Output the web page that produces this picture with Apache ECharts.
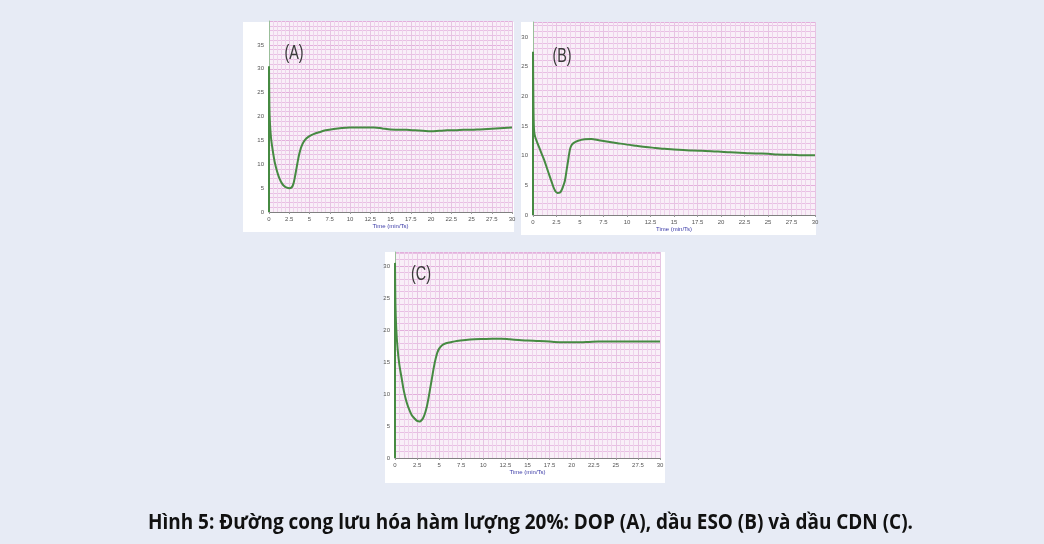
<!DOCTYPE html>
<html>
<head>
<meta charset="utf-8">
<script src="https://cdn.jsdelivr.net/npm/echarts@6/dist/echarts.min.js"></script>
<style>
html,body{margin:0;padding:0;background:#e7ebf5;}
#chart{width:1044px;height:544px;}
</style>
</head>
<body>
<div id="chart"></div>
<script>
// ---- data (time in minutes, torque) ----
const xTickLabels = ['0','2.5','5','7.5','10','12.5','15','17.5','20','22.5','25','27.5','30'];
const panelLabels = ['(A)', '(B)', '(C)'];
const xAxisTitle = 'Time (min/Ts)';
const captionText = 'Hình 5: Đường cong lưu hóa hàm lượng 20%: DOP (A), dầu ESO (B) và dầu CDN (C).';

const timeA = [0,0,0.05,0.12,0.25,0.45,0.7,1.0,1.3,1.6,1.9,2.2,2.5,2.75,2.95,3.1,3.25,3.4,3.55,3.7,3.85,4.0,4.25,4.6,5.0,5.5,6.2,7,8,9,10,11,12,13,14,15,16,17,18,19,20,21,22,23,24,25,26,27,28,29,30];
const torqueA = [0,30.5,22,18.5,15.5,13,10.5,8.5,7,6,5.4,5.1,5.0,5.1,5.6,6.5,7.8,9.2,10.6,11.9,12.9,13.7,14.6,15.4,15.9,16.3,16.7,17.1,17.4,17.6,17.7,17.7,17.7,17.7,17.5,17.3,17.2,17.2,17.1,17.0,16.9,17.0,17.1,17.1,17.2,17.2,17.3,17.4,17.5,17.6,17.7];

const timeB = [0,0,0.05,0.1,0.18,0.35,0.7,1.0,1.25,1.5,1.78,2.0,2.15,2.35,2.6,2.85,3.05,3.2,3.4,3.6,3.75,3.9,4.05,4.3,4.8,5.5,6.2,7,8,9,10,11,12,13,14,15,16,17,18,19,20,21,22,23,24,25,26,27,28,29,30];
const torqueB = [0,27.5,18,14.6,13.5,12.6,11.2,10.0,9.0,7.8,6.5,5.5,4.8,4.1,3.7,3.75,4.2,4.8,5.8,7.8,9.3,10.8,11.6,12.1,12.5,12.75,12.8,12.6,12.35,12.1,11.85,11.65,11.45,11.3,11.15,11.05,10.95,10.85,10.8,10.75,10.65,10.55,10.5,10.4,10.35,10.3,10.2,10.15,10.1,10.05,10.05];

const timeC = [0,0,0.05,0.15,0.3,0.5,0.75,1.0,1.3,1.6,1.9,2.2,2.5,2.8,3.0,3.2,3.4,3.6,3.8,4.0,4.2,4.4,4.6,4.8,5.0,5.3,5.7,6.3,7,8,9,10,11,12,13,14,15,16,17,18,19,20,21,22,23,24,25,26,27,28,29,30];
const torqueC = [0,30.5,24,20,17,14.5,12.5,10.5,8.8,7.6,6.7,6.2,5.8,5.7,5.9,6.3,7.0,8.0,9.4,11.0,12.6,14.2,15.5,16.5,17.1,17.6,17.9,18.1,18.3,18.45,18.55,18.6,18.65,18.65,18.55,18.45,18.35,18.3,18.25,18.15,18.1,18.1,18.1,18.15,18.2,18.2,18.2,18.2,18.2,18.2,18.2,18.2];

const yMaxes = [40, 32.5, 32.2];

// ---- build ----
const zip = (t, v) => t.map((x, i) => [x, v[i]]);
const seriesData = [zip(timeA, torqueA), zip(timeB, torqueB), zip(timeC, torqueC)];

const grids = [
  {left: 269, top: 21, width: 243, height: 191},
  {left: 533, top: 22, width: 282, height: 193},
  {left: 395, top: 252, width: 265, height: 206}
];
const boxes = [
  {x: 243, y: 22, w: 271, h: 210},
  {x: 521, y: 22, w: 295, h: 213},
  {x: 385, y: 252, w: 280, h: 231}
];
const labelPos = [[294, 53], [562, 56], [421, 274]];

const hMajor = '#e3afdc';
const hMinor = '#e9bfe4';
const vMajor = '#e6c4e2';
const vMinor = '#eed3eb';
const tickFont = {fontSize: 6, color: '#555', fontFamily: 'Liberation Sans'};

const xAxes = grids.map((g, i) => ({
  type: 'value', gridIndex: i, min: 0, max: 30, interval: 2.5,
  name: xAxisTitle, nameLocation: 'middle', nameGap: 11,
  nameTextStyle: {fontSize: 6, color: '#3c3ca8', fontFamily: 'Liberation Sans'},
  axisLine: {lineStyle: {color: '#808080', width: 1}},
  axisTick: {show: true, length: 2, lineStyle: {color: '#999'}},
  axisLabel: Object.assign({margin: 4, formatter: (v) => xTickLabels[Math.round(v / 2.5)] || ''}, tickFont),
  splitLine: {show: true, lineStyle: {color: vMajor, width: 1}},
  minorTick: {show: false, splitNumber: 5},
  minorSplitLine: {show: true, lineStyle: {color: vMinor, width: 1}}
}));
const yAxes = grids.map((g, i) => ({
  type: 'value', gridIndex: i, min: 0, max: yMaxes[i], interval: 5,
  axisLine: {show: true, lineStyle: {color: '#9bbf9b', width: 1}},
  axisTick: {show: false},
  axisLabel: Object.assign({margin: 5, showMaxLabel: false}, tickFont),
  splitLine: {show: true, lineStyle: {color: hMajor, width: 1}},
  minorTick: {show: false, splitNumber: 5},
  minorSplitLine: {show: true, lineStyle: {color: hMinor, width: 1}}
}));

const series = seriesData.map((d, i) => ({
  type: 'line', xAxisIndex: i, yAxisIndex: i, data: d,
  showSymbol: false, smooth: 0.3, clip: true,
  lineStyle: {color: '#468a42', width: 2},
  z: 5
}));

// caption width fitting
const capFont = 'bold 21px "Open Sans"';
const mc = document.createElement('canvas').getContext('2d');
mc.font = capFont;
const capW = mc.measureText(captionText).width;
const capScale = 765 / capW;

const graphics = [];
boxes.forEach(b => graphics.push({
  type: 'rect', shape: {x: b.x, y: b.y, width: b.w, height: b.h},
  style: {fill: '#ffffff'}, z: -10, silent: true
}));
panelLabels.forEach((t, i) => graphics.push({
  type: 'text', x: labelPos[i][0], y: labelPos[i][1], scaleX: 0.72, originX: 0, originY: 0, z: 20,
  style: {text: t, font: '20px "Liberation Sans"',
          fill: '#3a3a3a', textAlign: 'center', textVerticalAlign: 'middle'}
}));
graphics.push({
  type: 'text', x: 530.5, y: 523, scaleX: capScale, originX: 0, originY: 0, z: 20,
  style: {text: captionText, font: capFont, fill: '#111', textAlign: 'center', textVerticalAlign: 'middle'}
});

const chart = echarts.init(document.getElementById('chart'), null, {renderer: 'canvas'});
chart.setOption({
  backgroundColor: '#e7ebf5',
  animation: false,
  grid: grids.map(g => Object.assign({show: true, backgroundColor: '#f9eff8', borderWidth: 0}, g)),
  xAxis: xAxes,
  yAxis: yAxes,
  series: series,
  graphic: graphics
});
</script>
</body>
</html>
